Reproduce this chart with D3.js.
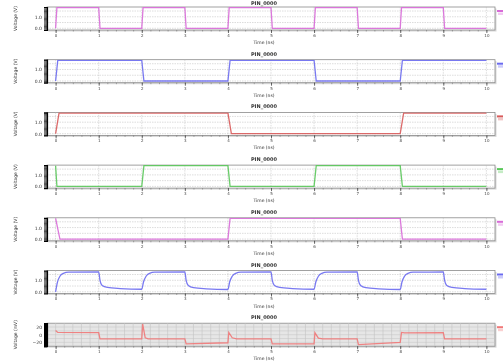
<!DOCTYPE html>
<html>
<head>
<meta charset="utf-8">
<script src="https://cdn.jsdelivr.net/npm/d3@7"></script>
<style>
  body { margin: 0; background: #fff; }
  svg { display: block; filter: blur(0.35px); }
  text { font-family: "DejaVu Sans", sans-serif; }
</style>
</head>
<body>
<svg id="chart"></svg>
<script>
// time axis (ns)
const timeTicks = [0, 1, 2, 3, 4, 5, 6, 7, 8, 9, 10];

// waveforms, [time ns, value]
const wave1 = [[0, 0], [0.03, 1.8], [1, 1.8], [1.03, 0], [2, 0], [2.03, 1.8], [3, 1.8], [3.03, 0],
  [4, 0], [4.03, 1.8], [5, 1.8], [5.03, 0], [6, 0], [6.03, 1.8], [7, 1.8], [7.03, 0],
  [8, 0], [8.03, 1.8], [9, 1.8], [9.03, 0], [10, 0]];
const wave2 = [[0, 0], [0.05, 1.8], [2, 1.8], [2.05, 0], [4, 0], [4.05, 1.8], [6, 1.8], [6.05, 0],
  [8, 0], [8.05, 1.8], [10, 1.8]];
const wave3 = [[0, 0], [0.08, 1.8], [4, 1.8], [4.08, 0], [8, 0], [8.08, 1.8], [10, 1.8]];
const wave4 = [[0, 1.8], [0.03, 0], [2, 0], [2.05, 1.8], [4, 1.8], [4.05, 0], [6, 0], [6.05, 1.8],
  [8, 1.8], [8.05, 0], [10, 0]];
const wave5 = [[0, 1.8], [0.1, 0], [4, 0], [4.05, 1.8], [8, 1.8], [8.05, 0], [10, 0]];
const wave6 = [
  [0, 0], [0.04, 0.8], [0.1, 1.35], [0.18, 1.6], [0.3, 1.7], [1, 1.72],
  [1.03, 1.0], [1.08, 0.55], [1.2, 0.38], [1.5, 0.28], [2, 0.22],
  [2.04, 0.85], [2.1, 1.35], [2.18, 1.6], [2.3, 1.7], [3, 1.72],
  [3.03, 1.0], [3.08, 0.55], [3.2, 0.36], [3.5, 0.26], [4, 0.2],
  [4.04, 0.85], [4.1, 1.35], [4.18, 1.6], [4.3, 1.7], [5, 1.72],
  [5.03, 1.0], [5.08, 0.55], [5.2, 0.38], [5.5, 0.28], [6, 0.22],
  [6.04, 0.85], [6.1, 1.35], [6.18, 1.6], [6.3, 1.7], [7, 1.72],
  [7.03, 1.0], [7.08, 0.55], [7.2, 0.36], [7.5, 0.26], [8, 0.2],
  [8.04, 0.85], [8.1, 1.35], [8.18, 1.6], [8.3, 1.7], [9, 1.72],
  [9.03, 1.0], [9.08, 0.55], [9.2, 0.38], [9.5, 0.28], [10, 0.22]];
const wave7 = [[0, 11], [0.05, 6], [1, 5.5], [1.03, -11], [2, -11], [2.02, 28], [2.08, -8], [2.15, -11],
  [3, -11], [3.03, -24], [4, -21], [4.02, 6], [4.1, -8], [4.2, -11], [5, -11], [5.03, -24],
  [6, -24], [6.02, 5], [6.1, -9], [6.2, -11], [7, -11], [7.03, -26], [8, -20], [8.03, 6],
  [8.1, 5], [9, 5.5], [9.03, -11], [10, -11]];

const voltTicks = [0, 1];
const voltGrid = [0, 0.5, 1, 1.5];
const mvTicks = [-20, 0, 20];
const mvGrid = [-20, -10, 0, 10, 20];

const panelTitle = "PIN_0000";
const panels = [
  { data: wave1, color: "#d86ad8", label: "Voltage (V)" },
  { data: wave2, color: "#6a6af0", label: "Voltage (V)" },
  { data: wave3, color: "#d85a5a", label: "Voltage (V)" },
  { data: wave4, color: "#5ac85a", label: "Voltage (V)" },
  { data: wave5, color: "#d86ad8", label: "Voltage (V)" },
  { data: wave6, color: "#6a6af0", label: "Voltage (V)", smooth: true },
  { data: wave7, color: "#f07878", label: "Voltage (mV)", mv: true }
];

const width = 503, height = 363;
const svg = d3.select("#chart").attr("width", width).attr("height", height);

const x = d3.scaleLinear().domain([-0.2, 10.2]).range([47, 495]);
const boxH = 23;
const tops = panels.map((_, i) => 7 + i * 52.7);

panels.forEach((p, i) => {
  const top = tops[i];
  const g = svg.append("g").attr("class", "panel");
  const y = d3.scaleLinear()
    .domain(p.mv ? [-30, 30] : [-0.15, 1.85])
    .range([top + boxH, top]);

  // shadow + box
  g.append("rect")
    .attr("x", x.range()[0] + 1.5).attr("y", top + 1.5)
    .attr("width", x.range()[1] - x.range()[0]).attr("height", boxH)
    .attr("fill", "#d8d8d8");
  g.append("rect")
    .attr("x", x.range()[0]).attr("y", top)
    .attr("width", x.range()[1] - x.range()[0]).attr("height", boxH)
    .attr("fill", p.mv ? "#e6e6e6" : "#fff")
    .attr("stroke", "#8a8a8a").attr("stroke-width", 0.8);

  // grid
  if (p.mv) {
    g.append("g").selectAll("line")
      .data(d3.range(-0.2, 10.21, 0.2))
      .join("line")
      .attr("x1", d => x(d)).attr("x2", d => x(d))
      .attr("y1", top).attr("y2", top + boxH)
      .attr("stroke", "#c4c4c4").attr("stroke-width", 0.6);
  } else {
    g.append("g").selectAll("line")
      .data(timeTicks)
      .join("line")
      .attr("x1", d => x(d)).attr("x2", d => x(d))
      .attr("y1", top).attr("y2", top + boxH)
      .attr("stroke", "#bbb").attr("stroke-width", 0.5)
      .attr("stroke-dasharray", "1.5,1");
  }
  g.append("g").selectAll("line")
    .data(p.mv ? mvGrid : voltGrid)
    .join("line")
    .attr("x1", x.range()[0]).attr("x2", x.range()[1])
    .attr("y1", d => y(d)).attr("y2", d => y(d))
    .attr("stroke", p.mv ? "#c4c4c4" : "#bbb").attr("stroke-width", 0.5)
    .attr("stroke-dasharray", p.mv ? null : "1.5,1");

  // y axis with dense minor ticks
  const yMinor = d3.axisLeft(y).ticks(p.mv ? 30 : 20).tickSize(3).tickFormat("");
  g.append("g").attr("transform", `translate(${x.range()[0]},0)`)
    .call(yMinor)
    .call(a => a.select(".domain").attr("stroke", "#000").attr("stroke-width", 1.2))
    .call(a => a.selectAll(".tick line").attr("stroke", "#000").attr("stroke-width", p.mv ? 1.2 : 0.7));
  if (p.mv) {
    g.append("rect")
      .attr("x", x.range()[0] - 3).attr("y", top)
      .attr("width", 3).attr("height", boxH).attr("fill", "#000");
  }
  const yAxis = d3.axisLeft(y)
    .tickValues(p.mv ? mvTicks : voltTicks)
    .tickSize(0).tickPadding(5)
    .tickFormat(p.mv ? d3.format("d") : d3.format(".1f"));
  g.append("g").attr("transform", `translate(${x.range()[0]},0)`)
    .call(yAxis)
    .call(a => a.select(".domain").remove())
    .call(a => a.selectAll("text").attr("font-size", 4.5).attr("fill", "#333"));

  // x axis
  const xMinor = d3.axisBottom(x).tickValues(d3.range(0, 10.01, 0.2)).tickSize(1.5).tickFormat("");
  g.append("g").attr("transform", `translate(0,${top + boxH})`)
    .call(xMinor)
    .call(a => a.select(".domain").remove())
    .call(a => a.selectAll(".tick line").attr("stroke", "#666").attr("stroke-width", 0.5));
  const xAxis = d3.axisBottom(x).tickValues(timeTicks).tickSize(3).tickPadding(1);
  g.append("g").attr("transform", `translate(0,${top + boxH})`)
    .call(xAxis)
    .call(a => a.select(".domain").remove())
    .call(a => a.selectAll(".tick line").attr("stroke", "#444").attr("stroke-width", 0.8))
    .call(a => a.selectAll("text").attr("font-size", 4).attr("fill", "#444"));

  // labels
  g.append("text")
    .attr("x", 264).attr("y", top + boxH + 14)
    .attr("text-anchor", "middle").attr("font-size", 4.5).attr("fill", "#333")
    .text("Time (ns)");
  g.append("text")
    .attr("x", 264).attr("y", Math.max(top - 4, 4.5))
    .attr("text-anchor", "middle").attr("font-size", 5).attr("font-weight", "bold").attr("fill", "#333")
    .text(panelTitle);
  g.append("text")
    .attr("transform", `translate(17,${top + boxH / 2}) rotate(-90)`)
    .attr("text-anchor", "middle").attr("font-size", 4.5).attr("fill", "#333")
    .text(p.label);

  // legend stub on the right edge
  g.append("line")
    .attr("x1", 497).attr("x2", 503)
    .attr("y1", top + 4).attr("y2", top + 4)
    .attr("stroke", p.color).attr("stroke-width", 2);
  g.append("rect")
    .attr("x", 498).attr("y", top + 5.5)
    .attr("width", 5).attr("height", 2.5)
    .attr("fill", p.color).attr("fill-opacity", 0.35);

  // trace
  const clipId = "clip" + i;
  g.append("clipPath").attr("id", clipId)
    .append("rect")
    .attr("x", x.range()[0]).attr("y", top)
    .attr("width", x.range()[1] - x.range()[0]).attr("height", boxH);
  const line = d3.line()
    .x(d => x(d[0])).y(d => y(d[1]))
    .curve(p.smooth ? d3.curveMonotoneX : d3.curveLinear);
  g.append("path")
    .attr("clip-path", `url(#${clipId})`)
    .attr("d", line(p.data))
    .attr("fill", "none")
    .attr("stroke", p.color)
    .attr("stroke-width", 1.3)
    .attr("stroke-opacity", 0.9);
});
</script>
</body>
</html>
